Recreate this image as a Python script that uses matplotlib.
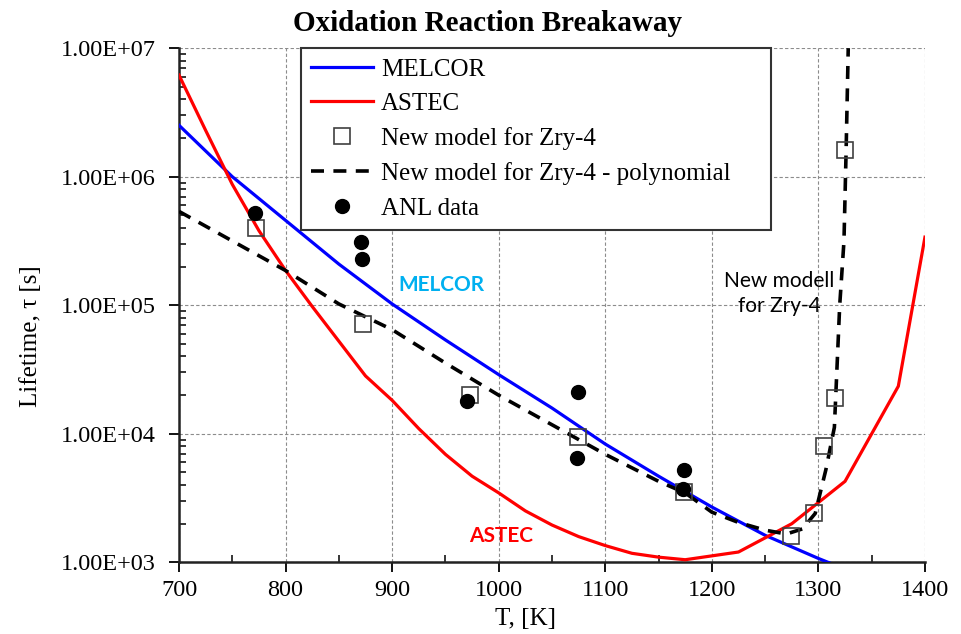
import numpy as np
import matplotlib
matplotlib.use("Agg")
import matplotlib.pyplot as plt
from matplotlib.ticker import FuncFormatter, MultipleLocator, LogLocator, NullFormatter

# ---- data (log10 of lifetime) ----
melcor_T = [700, 750, 800, 850, 900, 950, 1000, 1050, 1100, 1150, 1200, 1250, 1300, 1315]
melcor_logtau = [6.40, 6.00, 5.66, 5.32, 5.01, 4.73, 4.46, 4.20, 3.92, 3.67, 3.43, 3.21, 3.03, 2.98]

astec_T = [700, 725, 750, 775, 800, 825, 850, 875, 900, 925, 950, 975, 1000, 1025, 1050,
           1075, 1100, 1125, 1150, 1175, 1225, 1275, 1325, 1375, 1400]
astec_logtau = [6.79, 6.36, 5.94, 5.58, 5.27, 4.99, 4.72, 4.45, 4.26, 4.04, 3.84, 3.67, 3.54,
                3.40, 3.29, 3.20, 3.13, 3.07, 3.04, 3.02, 3.08, 3.30, 3.63, 4.37, 5.53]

poly_T = [700, 750, 800, 850, 900, 950, 1000, 1050, 1100, 1150, 1175, 1200, 1225, 1250,
          1270, 1285, 1297, 1307, 1315, 1320, 1324, 1326, 1328]
poly_logtau = [5.73, 5.50, 5.27, 5.01, 4.81, 4.55, 4.30, 4.07, 3.84, 3.63, 3.54, 3.39, 3.31,
               3.25, 3.22, 3.26, 3.38, 3.72, 4.05, 5.00, 5.50, 6.20, 7.00]

newmodel_T = [772, 873, 973, 1074, 1174, 1274, 1296, 1305, 1316, 1325]
newmodel_tau = [4.0e5, 7.1e4, 2.0e4, 9.5e3, 3.5e3, 1.6e3, 2.4e3, 8.0e3, 1.9e4, 1.6e6]

anl_T = [771, 871, 872, 970, 1074, 1073, 1174, 1173]
anl_tau = [5.2e5, 3.1e5, 2.3e5, 1.8e4, 2.1e4, 6.5e3, 5.2e3, 3.7e3]

xticks = [700, 800, 900, 1000, 1100, 1200, 1300, 1400]

melcor_tau = [10 ** v for v in melcor_logtau]
astec_tau = [10 ** v for v in astec_logtau]
poly_tau = [10 ** v for v in poly_logtau]

serif = "Liberation Serif"
plt.rcParams["font.family"] = serif

fig = plt.figure(figsize=(9.61, 6.34), dpi=100)
ax = fig.add_axes([0.1863, 0.1131, 0.7762, 0.8109])

ax.plot(melcor_T, melcor_tau, color="#0000FF", lw=2.3, label="MELCOR", zorder=3)
ax.plot(astec_T, astec_tau, color="#FF0000", lw=2.3, label="ASTEC", zorder=3)
ax.plot(newmodel_T, newmodel_tau, ls="none", marker="s", ms=11, mfc="none",
        mec="#404040", mew=1.2, label="New model for Zry-4", zorder=4)
ax.plot(poly_T, poly_tau, color="black", lw=2.6, dashes=(3.6, 2.6),
        label="New model for Zry-4 - polynomial", zorder=3)
ax.plot(anl_T, anl_tau, ls="none", marker="o", ms=10, color="black",
        label="ANL data", zorder=5)

ax.set_yscale("log")
ax.set_xlim(700, 1400)
ax.set_ylim(1e3, 1e7)
ax.set_xticks(xticks)
ax.xaxis.set_minor_locator(MultipleLocator(50))
ax.yaxis.set_major_locator(LogLocator(base=10, numticks=10))
ax.yaxis.set_minor_locator(LogLocator(base=10, subs=np.arange(2, 10), numticks=20))
ax.yaxis.set_minor_formatter(NullFormatter())
ax.yaxis.set_major_formatter(FuncFormatter(lambda v, p: f"{v:.2E}"))

ax.grid(True, which="major", color="#8c8c8c", ls=(0, (3, 2)), lw=0.8)
ax.spines["top"].set_visible(False)
ax.spines["right"].set_visible(False)
for s in ("left", "bottom"):
    ax.spines[s].set_linewidth(1.8)
    ax.spines[s].set_color("#222222")

ax.tick_params(which="major", direction="out", length=7, width=1.3, labelsize=17.5,
               colors="black")
ax.tick_params(axis="x", which="major", pad=6)
ax.tick_params(axis="y", which="major", pad=10)
ax.tick_params(which="minor", direction="in", length=5, width=1.1)

fig.text(0.507, 0.963, "Oxidation Reaction Breakaway", fontsize=21, fontweight="bold",
         ha="center", va="center")
ax.set_xlabel("T, [K]", fontsize=18)
ax.xaxis.set_label_coords(0.465, -0.088)
ax.set_ylabel("Lifetime, \u03c4 [s]", fontsize=18)
ax.yaxis.set_label_coords(-0.184, 0.44)

leg = ax.legend(loc="upper left", bbox_to_anchor=(0.1635, 0.0, 0.63, 1.0), mode="expand",
                borderaxespad=0, fontsize=18, frameon=True, fancybox=False, framealpha=1,
                edgecolor="#333333", handlelength=2.5, handletextpad=0.3,
                labelspacing=0.48, borderpad=0.4)
leg.get_frame().set_linewidth(1.5)
leg.set_zorder(6)

ax.text(946, 1.44e5, "MELCOR", color="#00B0F0", fontsize=15, family="Lato",
        ha="center", va="center", fontweight="bold")
ax.text(1002, 1.6e3, "ASTEC", color="#FF0000", fontsize=15, family="Lato",
        ha="center", va="center", fontweight="bold")
ax.text(1263, 1.23e5, "New modell\nfor Zry-4", color="black", fontsize=15, family="Lato",
        ha="center", va="center", multialignment="center", linespacing=1.3)

fig.savefig("out.png", dpi=100)
